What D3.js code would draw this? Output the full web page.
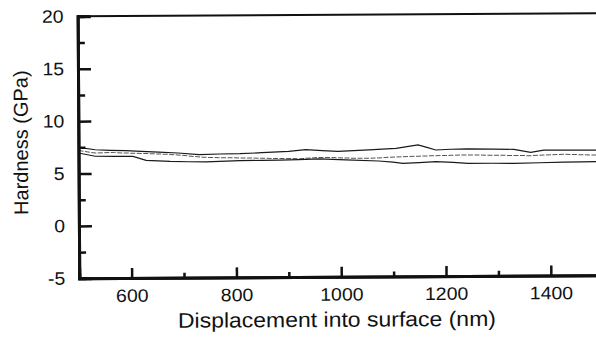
<!DOCTYPE html>
<html>
<head>
<meta charset="utf-8">
<script src="https://cdn.jsdelivr.net/npm/d3@7"></script>
<style>
  html, body { margin: 0; padding: 0; background: #fff; }
  svg { display: block; }
  text { font-family: "Liberation Sans", Arial, sans-serif; fill: #111; }
</style>
</head>
<body>
<svg id="chart" width="596" height="343"></svg>
<script>
// Hardness vs. displacement, three indentation runs
const depthA = [500, 532, 560, 590, 620, 653, 690, 730, 770, 808, 850, 901, 934, 965, 995, 1025, 1054, 1080, 1106, 1130, 1148, 1165, 1182, 1210, 1243, 1290, 1331, 1363, 1388, 1430, 1460, 1487, 1500];
const hardA  = [7.50, 7.26, 7.20, 7.16, 7.08, 7.00, 6.90, 6.73, 6.78, 6.80, 6.88, 7.00, 7.15, 7.05, 6.97, 7.02, 7.08, 7.15, 7.22, 7.40, 7.53, 7.30, 7.04, 7.10, 7.12, 7.08, 7.06, 6.76, 6.97, 6.95, 6.94, 6.94, 6.94];

const depthB = [500, 532, 560, 590, 640, 686, 737, 780, 827, 870, 923, 960, 995, 1025, 1054, 1085, 1119, 1150, 1182, 1210, 1243, 1300, 1363, 1426, 1460, 1487, 1500];
const hardB  = [7.21, 6.95, 7.00, 6.93, 6.85, 6.74, 6.48, 6.42, 6.38, 6.33, 6.29, 6.40, 6.36, 6.30, 6.29, 6.35, 6.42, 6.46, 6.50, 6.52, 6.55, 6.50, 6.44, 6.56, 6.50, 6.47, 6.47];

const depthC = [500, 532, 570, 604, 629, 675, 710, 743, 808, 850, 884, 920, 960, 1010, 1073, 1100, 1119, 1150, 1182, 1215, 1243, 1290, 1331, 1380, 1426, 1460, 1487, 1500];
const hardC  = [6.96, 6.64, 6.62, 6.61, 6.22, 6.10, 6.06, 6.03, 6.13, 6.15, 6.17, 6.20, 6.25, 6.15, 6.02, 5.90, 5.79, 5.85, 5.93, 5.85, 5.75, 5.74, 5.72, 5.76, 5.80, 5.82, 5.83, 5.83];

const xMajor = [600, 800, 1000, 1200, 1400];
const xMinor = [700, 900, 1100, 1300];
const yMajor = [-5, 0, 5, 10, 15, 20];
const yMinor = [-2.5, 2.5, 7.5, 12.5, 17.5];

const xLabel = "Displacement into surface (nm)";
const yLabel = "Hardness (GPa)";

const svg = d3.select("#chart");
const W = 596, H = 343;
const plotL = 78.6, plotR = 602.6, plotT = 15, plotB = 277;

// whole figure sits very slightly rotated
const g = svg.append("g").attr("transform", `rotate(-0.35 ${W / 2} ${H / 2})`);

const x = d3.scaleLinear().domain([500, 1500]).range([plotL, plotR]);
const y = d3.scaleLinear().domain([-5, 20]).range([plotB, plotT]);

// data lines
const line = d3.line().x(d => x(d[0])).y(d => y(d[1])).curve(d3.curveLinear);
const series = [
  { d: d3.zip(depthA, hardA), stroke: "#1a1a1a", w: 1.2 },
  { d: d3.zip(depthB, hardB), stroke: "#555", w: 1.0, dash: "5 1.5" },
  { d: d3.zip(depthC, hardC), stroke: "#1a1a1a", w: 1.2 }
];
series.forEach(s => {
  g.append("path")
    .attr("d", line(s.d))
    .attr("fill", "none")
    .attr("stroke", s.stroke)
    .attr("stroke-width", s.w)
    .attr("stroke-dasharray", s.dash || null);
});

// frame: top edge and right edge
g.append("line").attr("x1", plotL).attr("x2", plotR).attr("y1", plotT).attr("y2", plotT)
  .attr("stroke", "#111").attr("stroke-width", 2);
g.append("line").attr("x1", plotR).attr("x2", plotR).attr("y1", plotT).attr("y2", plotB)
  .attr("stroke", "#111").attr("stroke-width", 2);

// plain hyphen for negative labels
const plain = d => String(d);

// left axis, inward ticks
g.append("g").attr("transform", `translate(${plotL},0)`)
  .call(d3.axisLeft(y).tickValues(yMajor).tickSize(-13).tickPadding(14).tickFormat(plain));
g.append("g").attr("transform", `translate(${plotL},0)`)
  .call(d3.axisLeft(y).tickValues(yMinor).tickSize(-7).tickFormat(""));

// bottom axis, inward ticks
g.append("g").attr("transform", `translate(0,${plotB})`)
  .call(d3.axisBottom(x).tickValues(xMajor).tickSize(-10).tickPadding(11).tickFormat(plain));
g.append("g").attr("transform", `translate(0,${plotB})`)
  .call(d3.axisBottom(x).tickValues(xMinor).tickSize(-5).tickFormat(""));

g.selectAll(".domain").attr("stroke", "#111").attr("stroke-width", 3);
g.selectAll(".tick line").attr("stroke", "#111").attr("stroke-width", 2.5);
g.selectAll(".tick text").attr("font-size", 18).attr("fill", "#111")
  .attr("font-family", "'Liberation Sans', Arial, sans-serif")
  .each(function () {
    const len = this.getComputedTextLength();
    d3.select(this).attr("textLength", len * 1.08).attr("lengthAdjust", "spacingAndGlyphs");
  });

// axis titles
g.append("text")
  .attr("x", 336).attr("y", 327)
  .attr("text-anchor", "middle").attr("font-size", 21)
  .attr("textLength", 318).attr("lengthAdjust", "spacingAndGlyphs")
  .text(xLabel);
g.append("text")
  .attr("transform", "translate(28,141) rotate(-90)")
  .attr("text-anchor", "middle").attr("font-size", 20)
  .text(yLabel);
</script>
</body>
</html>
